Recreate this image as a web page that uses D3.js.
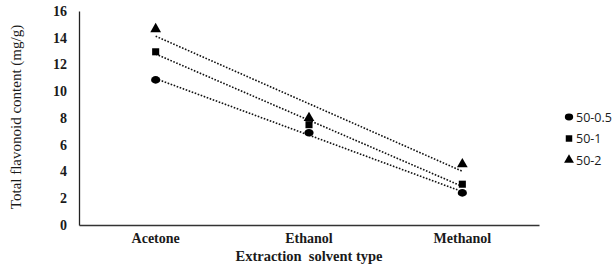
<!DOCTYPE html>
<html>
<head>
<meta charset="utf-8">
<script src="https://cdn.jsdelivr.net/npm/d3@7"></script>
<style>
body { margin: 0; background: #fff; }
svg { display: block; }
</style>
</head>
<body>
<svg id="canvas" width="616" height="270"></svg>
<script>
let solvents = ['Acetone', 'Ethanol', 'Methanol']
let seriesNames = ['50-0.5', '50-1', '50-2']
let values_05 = [10.85, 6.9, 2.4]
let values_1 = [12.95, 7.5, 3.05]
let values_2 = [14.65, 8.0, 4.55]
let yTicks = [0, 2, 4, 6, 8, 10, 12, 14, 16]

let svg = d3.select('#canvas')
let plotLeft = 79, plotRight = 539, plotTop = 11, plotBottom = 225

let x = d3.scaleBand().domain(solvents).range([plotLeft, plotRight])
let y = d3.scaleLinear().domain([0, 16]).range([plotBottom, plotTop])

// axes (no tick marks)
let yAxis = svg.append('g')
    .attr('transform', 'translate(' + plotLeft + ',0)')
    .call(d3.axisLeft(y).tickValues(yTicks).tickSize(0).tickPadding(12))
yAxis.select('.domain').attr('stroke', '#222').attr('stroke-width', 1.3)
yAxis.selectAll('text')
    .attr('font-family', 'Liberation Serif')
    .attr('font-size', 14)
    .attr('font-weight', 'bold')
    .attr('fill', '#1a1a1a')

let xAxis = svg.append('g')
    .attr('transform', 'translate(0,' + plotBottom + ')')
    .call(d3.axisBottom(x).tickSize(0).tickPadding(8))
xAxis.select('.domain').attr('stroke', '#333').attr('stroke-width', 1.3)
xAxis.selectAll('text')
    .attr('font-family', 'Liberation Serif')
    .attr('font-size', 14)
    .attr('font-weight', 'bold')
    .attr('fill', '#1a1a1a')

svg.append('text')
    .attr('x', (plotLeft + plotRight) / 2)
    .attr('y', 261)
    .attr('text-anchor', 'middle')
    .attr('font-family', 'Liberation Serif')
    .attr('font-size', 14.5)
    .attr('font-weight', 'bold')
    .attr('fill', '#1a1a1a')
    .attr('xml:space', 'preserve')
    .text('Extraction  solvent type')

svg.append('text')
    .attr('transform', 'translate(21,' + 117 + ') rotate(-90)')
    .attr('text-anchor', 'middle')
    .attr('font-family', 'Liberation Serif')
    .attr('font-size', 15)
    .attr('fill', '#1a1a1a')
    .text('Total flavonoid content (mg/g)')

let allSeries = [values_05, values_1, values_2]
let shapes = [d3.symbolCircle, d3.symbolSquare, d3.symbolTriangle]
let sizes = [46, 50, 50]

let cx = (s) => x(s) + x.bandwidth() / 2

// linear trend lines
allSeries.forEach((vals) => {
    let n = vals.length
    let xs = vals.map((v, i) => i)
    let mx = d3.mean(xs), my = d3.mean(vals)
    let slope = d3.sum(xs.map((xi, i) => (xi - mx) * (vals[i] - my))) / d3.sum(xs.map((xi) => (xi - mx) * (xi - mx)))
    let icpt = my - slope * mx
    svg.append('line')
        .attr('x1', cx(solvents[0]))
        .attr('y1', y(icpt))
        .attr('x2', cx(solvents[n - 1]))
        .attr('y2', y(icpt + slope * (n - 1)))
        .attr('stroke', '#111')
        .attr('stroke-width', 1.6)
        .attr('stroke-dasharray', '1.6,1.6')
})

// markers
allSeries.forEach((vals, k) => {
    svg.selectAll('.m' + k)
        .data(vals)
        .enter()
        .append('path')
        .attr('class', 'm' + k)
        .attr('d', d3.symbol().type(shapes[k]).size(sizes[k]))
        .attr('transform', (d, i) => 'translate(' + cx(solvents[i]) + ',' + y(d) + ')' + (k === 0 ? ' scale(1.2,1)' : ''))
        .attr('fill', '#000')
})

// legend
let legend = svg.append('g')
seriesNames.forEach((name, k) => {
    let ly = 117 + k * 21.5
    legend.append('path')
        .attr('d', d3.symbol().type(shapes[k]).size(sizes[k] - 8))
        .attr('transform', 'translate(569,' + ly + ')' + (k === 0 ? ' scale(1.2,1)' : ''))
        .attr('fill', '#000')
    legend.append('text')
        .attr('x', 576)
        .attr('y', ly + 4.5)
        .attr('font-family', 'Open Sans')
        .attr('font-size', 12.5)
        .attr('fill', '#1a1a1a')
        .text(name)
})
</script>
</body>
</html>
